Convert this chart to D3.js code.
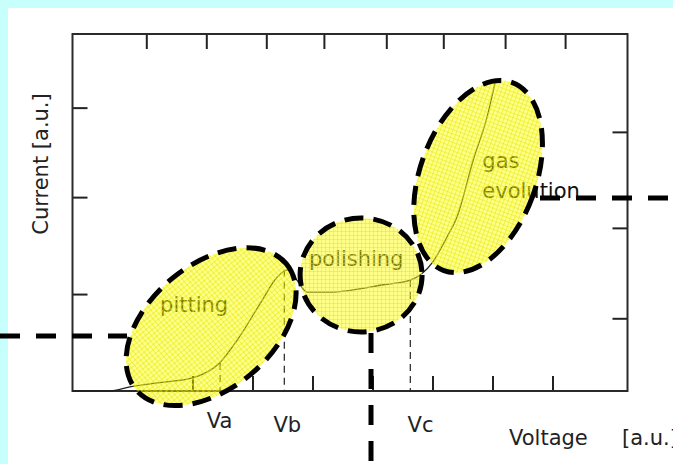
<!DOCTYPE html>
<html>
<head>
<meta charset="utf-8">
<script src="https://cdn.jsdelivr.net/npm/d3@7"></script>
<style>
  html, body { margin: 0; padding: 0; background: #c6fffb; }
  #chart { width: 673px; height: 464px; overflow: hidden; }
  text { font-family: "DejaVu Sans", sans-serif; }
</style>
</head>
<body>
<div id="chart"></div>
<script>
// I-V curve (arbitrary units)
const voltage = [0, 0.6, 1.0, 1.45, 2.0, 2.45, 2.75, 3.13, 3.41, 3.58, 3.74, 3.91, 4.3, 4.63, 5.18, 5.63, 6.0, 6.24, 6.41, 6.68, 6.91, 7.04]
const current = [0, 0.0, 0.05, 0.09, 0.14, 0.30, 0.55, 0.94, 1.22, 1.30, 1.19, 1.06, 1.06, 1.08, 1.14, 1.19, 1.38, 1.65, 1.87, 2.48, 2.94, 3.30]

// tick positions (they don't line up between opposite sides in the original)
const bottomTicks = [2, 3, 4, 5, 6, 7, 8]
const topTicks = [1.23, 2.23, 3.23, 4.19, 5.23, 6.18, 7.21, 8.21]
const leftTicks = [1.04, 2.08, 3.04]
const rightTicks = [0.78, 1.75, 2.78]

// characteristic voltages
const vNames = ["Va", "Vb", "Vc"]
const vValues = [2.46, 3.53, 5.63]
const vCurrent = [0.30, 1.30, 1.19]
const vLabelAt = [2.45, 3.58, 5.8]

const regionNames = [["pitting"], ["polishing"], ["gas", "evolution"]]

const W = 673, H = 464
const frame = { left: 72.5, right: 627.5, top: 34, bottom: 391 }

const x = d3.scaleLinear().domain([0, 9.25]).range([frame.left, frame.right])
const y = d3.scaleLinear().domain([0, 3.83]).range([frame.bottom, frame.top])

const svg = d3.select("#chart").append("svg")
  .attr("width", W)
  .attr("height", H)

// white sheet
svg.append("rect")
  .attr("x", 8).attr("y", 8)
  .attr("width", W).attr("height", H)
  .attr("fill", "#fff")

const defs = svg.append("defs")
const pat = defs.append("pattern")
  .attr("id", "hl")
  .attr("width", 4).attr("height", 4)
  .attr("patternUnits", "userSpaceOnUse")
pat.append("rect").attr("width", 4).attr("height", 4).attr("fill", "#ffff00").attr("fill-opacity", 0.45)
pat.append("path").attr("d", "M0,0.5H4M0.5,0V4").attr("stroke", "#e6e600").attr("stroke-width", 1).attr("stroke-opacity", 0.5)

// axes drawn inward, no labels
const tickLen = 15
function ax(gen, ticks) {
  return gen.tickValues(ticks).tickSizeInner(tickLen).tickSizeOuter(0).tickFormat("")
}
const axes = [
  [d3.axisTop(x), bottomTicks, frame.bottom, "x"],
  [d3.axisBottom(x), topTicks, frame.top, "x"],
  [d3.axisRight(y), leftTicks, frame.left, "y"],
  [d3.axisLeft(y), rightTicks, frame.right, "y"]
]
axes.forEach(([gen, ticks, pos, dir]) => {
  const g = svg.append("g")
    .attr("transform", dir === "x" ? "translate(0," + pos + ")" : "translate(" + pos + ",0)")
    .call(ax(gen, ticks))
  g.select(".domain").remove()
  g.selectAll("line").attr("stroke", "#222").attr("stroke-width", 2)
})

svg.append("rect")
  .attr("x", frame.left).attr("y", frame.top)
  .attr("width", frame.right - frame.left)
  .attr("height", frame.bottom - frame.top)
  .attr("fill", "none")
  .attr("stroke", "#2a2a2a")
  .attr("stroke-width", 2)

// curve
const pts = voltage.map((v, i) => [v, current[i]])
const line = d3.line()
  .curve(d3.curveMonotoneX)
  .x(d => x(d[0]))
  .y(d => y(d[1]))

svg.append("path")
  .attr("d", line(pts))
  .attr("fill", "none")
  .attr("stroke", "#222")
  .attr("stroke-width", 1.3)

// drop lines and labels
vNames.forEach((name, i) => {
  svg.append("line")
    .attr("x1", x(vValues[i])).attr("x2", x(vValues[i]))
    .attr("y1", y(vCurrent[i])).attr("y2", frame.bottom)
    .attr("stroke", "#222")
    .attr("stroke-width", 1.2)
    .attr("stroke-dasharray", "7 5")
  svg.append("text")
    .attr("x", x(vLabelAt[i]))
    .attr("y", i === 0 ? 428 : 432)
    .attr("text-anchor", "middle")
    .attr("font-size", 21)
    .attr("fill", "#222")
    .text(name)
})

// axis titles
svg.append("text")
  .attr("transform", "translate(48,164) rotate(-90)")
  .attr("text-anchor", "middle")
  .attr("font-size", 21)
  .attr("fill", "#222")
  .text("Current [a.u.]")

svg.append("text").attr("x", 509).attr("y", 445).attr("font-size", 21).attr("fill", "#222").text("Voltage")
svg.append("text").attr("x", 622).attr("y", 445).attr("font-size", 21).attr("fill", "#222").text("[a.u.]")

// region names (sit under the highlight)
const nameAt = [[1.46, 0.85], [3.94, 1.34], [6.83, 2.39]]
regionNames.forEach((lines, i) => {
  lines.forEach((t, j) => {
    svg.append("text")
      .attr("x", x(nameAt[i][0]))
      .attr("y", y(nameAt[i][1]) + j * 30)
      .attr("font-size", 21)
      .attr("fill", "#111")
      .text(t)
  })
})

// highlight ellipses: center (data units), radii (px), rotation
const blobs = [
  { c: [2.31, 0.69], rx: 98, ry: 62, rot: -40 },
  { c: [4.81, 1.245], rx: 61, ry: 57, rot: 0 },
  { c: [6.76, 2.30], rx: 58, ry: 100, rot: 20 }
]
blobs.forEach(b => {
  svg.append("ellipse")
    .attr("transform", "translate(" + x(b.c[0]) + "," + y(b.c[1]) + ") rotate(" + b.rot + ")")
    .attr("rx", b.rx).attr("ry", b.ry)
    .attr("fill", "url(#hl)")
})

// thick dashed guides
const guides = [
  [0, y(0.59), 127, y(0.59)],
  [x(4.975), 333, x(4.975), H],
  [540, y(2.07), W, y(2.07)]
]
guides.forEach(g => {
  svg.append("line")
    .attr("x1", g[0]).attr("y1", g[1]).attr("x2", g[2]).attr("y2", g[3])
    .attr("stroke", "#000")
    .attr("stroke-width", 5)
    .attr("stroke-dasharray", "20 16")
})

blobs.forEach(b => {
  svg.append("ellipse")
    .attr("transform", "translate(" + x(b.c[0]) + "," + y(b.c[1]) + ") rotate(" + b.rot + ")")
    .attr("rx", b.rx).attr("ry", b.ry)
    .attr("fill", "none")
    .attr("stroke", "#000")
    .attr("stroke-width", 5)
    .attr("stroke-dasharray", "19 10")
})
</script>
</body>
</html>
